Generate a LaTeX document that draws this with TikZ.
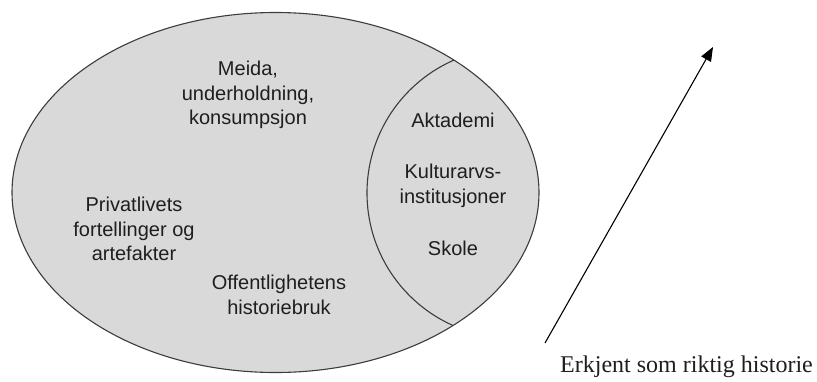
\documentclass[tikz,border=0pt]{standalone}
\usepackage{fontspec}
\setmainfont{Liberation Serif}
\newfontfamily\arial{Liberation Sans}
\usetikzlibrary{arrows.meta}
\definecolor{flate}{RGB}{217,217,217}
\definecolor{kant}{RGB}{60,60,60}
\definecolor{skrift}{RGB}{30,30,30}
\tikzset{
  felt/.style={text=skrift, align=center, font=\arial\fontsize{20}{24.5}\selectfont},
}
\begin{document}
\begin{tikzpicture}[x=1pt,y=-1pt]
			\useasboundingbox (0,0) rectangle (817,381);
			% Stor ellipse
			\fill[flate] (275.5,192.5) ellipse (263.5 and 180);
			\begin{scope}
				\clip (275.5,192.5) ellipse (263.5 and 180);
				\draw[kant, line width=1.1pt] (512,193) circle (145);
			\end{scope}
			\draw[kant, line width=1.1pt] (275.5,192.5) ellipse (263.5 and 180);
			% Tekster
			\node[felt] (media) at (248,95) {Meida,\\underholdning,\\konsumpsjon};
			\node[felt] (privat) at (134,229) {Privatlivets\\fortellinger og\\artefakter};
			\node[felt] (offentlig) at (279,295) {Offentlighetens\\historiebruk};
			\node[felt] (akademi) at (453,120) {Aktademi};
			\node[felt] (kulturarv) at (453,186) {Kulturarvs-\\institusjoner};
			\node[felt] (skole) at (453,248) {Skole};
			% Pil
			\coordinate (pilfra) at (545,343);
			\coordinate (piltil) at (713,47);
			\draw[line width=1.1pt, -{Triangle[length=14pt,width=11pt]}] (pilfra) -- (piltil);
			\node[anchor=base, text=skrift, font=\fontsize{24}{28}\selectfont] (erkjent) at (686.5,372) {Erkjent som riktig historie};
		\end{tikzpicture}
\end{document}
